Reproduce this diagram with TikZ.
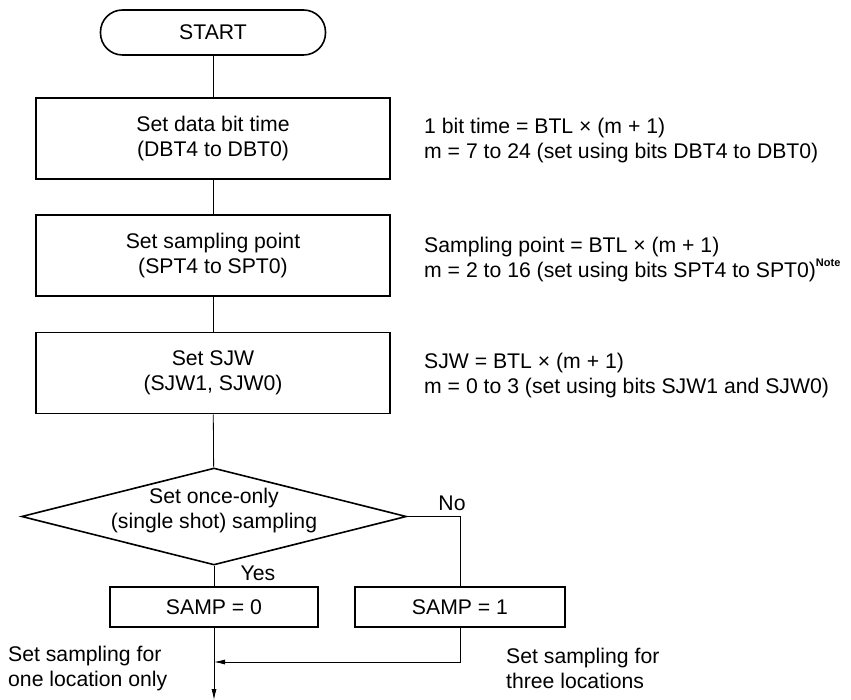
\documentclass[tikz,border=0pt]{standalone}
\usepackage{fontspec}
\setmainfont{Liberation Sans}
\usetikzlibrary{shapes.geometric,arrows.meta}
\begin{document}
\begin{tikzpicture}[x=1pt,y=-1pt,
  font=\fontsize{21.2}{25}\selectfont,
  stepbox/.style={draw, line width=1.6pt, minimum width=354pt, minimum height=81pt, align=center, inner sep=0pt},
  sampbox/.style={draw, line width=1.6pt, minimum width=208pt, minimum height=40pt, inner sep=0pt},
  conn/.style={line width=0.8pt},
  tip/.style={-{Latex[length=11pt,width=5pt]}},
  side/.style={anchor=west, align=left, inner sep=0pt}]
\useasboundingbox (0,0) rectangle (851,700);
\node[draw, line width=1.6pt, rounded corners=22pt, minimum width=225pt, minimum height=45pt, inner sep=0pt] (start) at (213,32.5) {START};
\node[stepbox] (b1) at (213,138.5) {Set data bit time\\(DBT4 to DBT0)};
\node[stepbox] (b2) at (213,255.5) {Set sampling point\\(SPT4 to SPT0)};
\node[stepbox] (b3) at (213,373) {Set SJW\\(SJW1, SJW0)};
\node[diamond, draw, line width=1.6pt, aspect=3.97, minimum width=385pt, minimum height=97pt, inner sep=0pt] (dec) at (214,516.5) {};
\node[align=center, inner sep=0pt] (dectxt) at (214,511) {Set once-only\\(single shot) sampling};
\node[sampbox] (s0) at (214,607) {SAMP = 0};
\node[sampbox, minimum width=210pt] (s1) at (460,607) {SAMP = 1};
\coordinate (j) at (214,662);
\coordinate (endc) at (214,700);

\draw[conn] (start) -- (b1);
\draw[conn] (b1) -- (b2);
\draw[conn] (b2) -- (b3);
\draw[conn] (b3) -- (dec);
\draw[conn] (dec.south) -- (s0.north);
\draw[conn] (dec.east) -| (s1.north);
\draw[conn,tip] (s1.south) |- (j);
\draw[conn,tip] (s0.south) -- (endc);

\node[inner sep=0pt] (yes) at (258,573) {Yes};
\node[inner sep=0pt] (no) at (452,503) {No};

\node[side] (n1) at (424,141) {1 bit time = BTL × (m + 1)\\m = 7 to 24 (set using bits DBT4 to DBT0)};
\node[side] (n2) at (424,259.5) {Sampling point = BTL × (m + 1)\\m = 2 to 16 (set using bits SPT4 to SPT0)\raisebox{3pt}{\textsuperscript{\fontsize{11}{11}\selectfont\bfseries Note}}};
\node[side] (n3) at (424,375.5) {SJW = BTL × (m + 1)\\m = 0 to 3 (set using bits SJW1 and SJW0)};
\node[side] (n4) at (8,668.5) {Set sampling for\\one location only};
\node[side] (n5) at (506,668.5) {Set sampling for\\three locations};
\end{tikzpicture}
\end{document}
